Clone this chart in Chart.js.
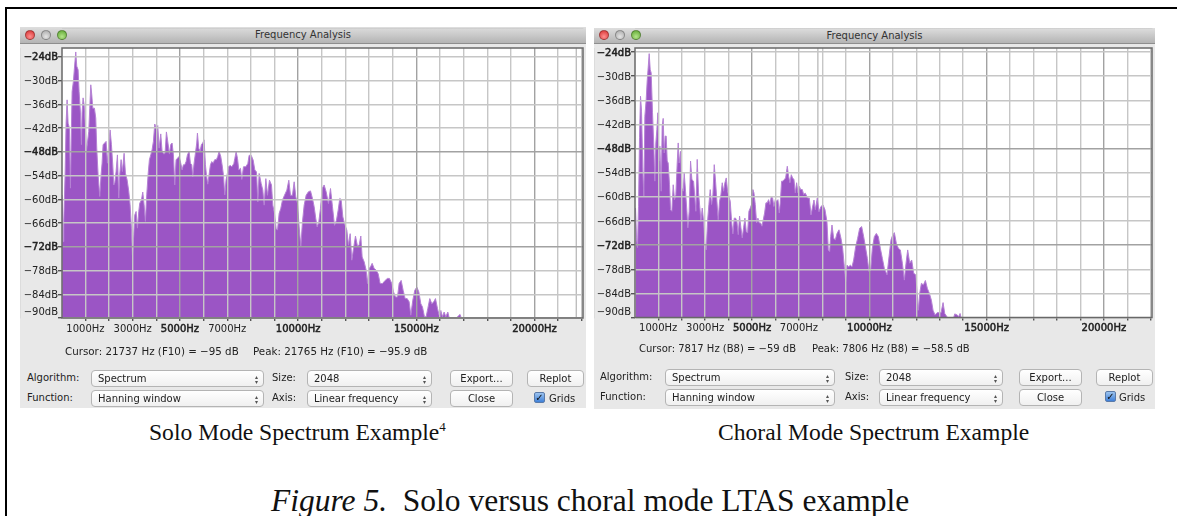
<!DOCTYPE html>
<html lang="en">
<head>
  <meta charset="UTF-8">
  <title>Solo versus choral mode LTAS example</title>
  <script src="https://cdn.jsdelivr.net/npm/chart.js"></script>
  <style>
    html, body { margin: 0; padding: 0; background: #fff; }
    body { position: relative; width: 1177px; height: 516px; overflow: hidden; font-family: "DejaVu Sans", sans-serif; color: #222; }
    .abs, .win, .bar, .light, .lbl, .sel, .btn, .chk, .cap, canvas { position: absolute; }
    .win { background: #e8e8e8; }
    .bar { background: linear-gradient(#dedede, #b4b4b4); border-bottom: 1px solid #8e8e8e; font-size: 10px; line-height: 16px; text-align: center; color: #333; box-sizing: border-box; }
    .light { width: 10px; height: 10px; border-radius: 50%; border: 1px solid rgba(0,0,0,.3); box-sizing: border-box; }
    .lbl { font-size: 10px; line-height: 14px; white-space: nowrap; }
    .sel, .btn { height: 17px; line-height: 15px; font-size: 10px; background: linear-gradient(#fff, #f0f0f0); border: 1px solid #b4b4b4; border-radius: 4px; box-sizing: border-box; white-space: nowrap; }
    .sel { padding-left: 6px; }
    .sel::after { content: "\25B4\A\25BE"; white-space: pre; position: absolute; right: 5px; top: 3px; font-size: 6px; line-height: 5px; color: #555; }
    .btn { text-align: center; }
    .chk { width: 11px; height: 11px; background: linear-gradient(#9cc4f0, #3f80d8); border: 1px solid #5a7aa8; border-radius: 2px; box-sizing: border-box; color: #111; font-size: 10px; line-height: 9px; text-align: center; font-weight: bold; }
    .cap { font-family: "Liberation Serif", serif; font-size: 23.6px; line-height: 26px; white-space: nowrap; color: #111; }
    .cap sup { font-size: 13px; line-height: 0; }
    .fig { font-size: 31.5px; line-height: 34px; }
  </style>
</head>
<body>
  <div class="abs" style="left:5px;top:7px;width:1172px;height:2px;background:#000"></div>
  <div class="abs" style="left:5px;top:7px;width:2px;height:509px;background:#000"></div>

  <!-- left window -->
  <div class="win" style="left:20px;top:27px;width:566px;height:381px"></div>
  <div class="bar" style="left:20px;top:27px;width:566px;height:17px">Frequency Analysis</div>
  <div class="light" style="left:25px;top:30px;background:radial-gradient(circle at 50% 70%,#ff8f8f,#d62f2f)"></div>
  <div class="light" style="left:41px;top:30px;background:radial-gradient(circle at 50% 70%,#e4e4e4,#a8a8a8)"></div>
  <div class="light" style="left:57px;top:30px;background:radial-gradient(circle at 50% 70%,#b4e58a,#5ba52f)"></div>
  <canvas id="soloChart" width="566" height="320" style="left:20px;top:28px"></canvas>
  <div class="lbl" style="left:65px;top:344px;font-size:10.3px">Cursor: 21737 Hz (F10) = −95 dB</div>
  <div class="lbl" style="left:253px;top:344px;font-size:10.3px">Peak: 21765 Hz (F10) = −95.9 dB</div>
  <div class="lbl" style="left:27px;top:371px">Algorithm:</div>
  <div class="sel" style="left:91px;top:370px;width:173px">Spectrum</div>
  <div class="lbl" style="left:272px;top:371px">Size:</div>
  <div class="sel" style="left:307px;top:370px;width:125px">2048</div>
  <div class="btn" style="left:450px;top:370px;width:63px">Export...</div>
  <div class="btn" style="left:527px;top:370px;width:57px">Replot</div>
  <div class="lbl" style="left:27px;top:391px">Function:</div>
  <div class="sel" style="left:91px;top:390px;width:173px">Hanning window</div>
  <div class="lbl" style="left:272px;top:391px">Axis:</div>
  <div class="sel" style="left:307px;top:390px;width:125px">Linear frequency</div>
  <div class="btn" style="left:450px;top:390px;width:63px">Close</div>
  <div class="chk" style="left:534px;top:392px">✓</div>
  <div class="lbl" style="left:549px;top:392px">Grids</div>
  <div class="cap" style="left:149px;top:419px">Solo Mode Spectrum Example<sup>4</sup></div>

  <!-- right window -->
  <div class="win" style="left:594px;top:28px;width:561px;height:381px"></div>
  <div class="bar" style="left:594px;top:28px;width:561px;height:16px">Frequency Analysis</div>
  <div class="light" style="left:599px;top:30px;background:radial-gradient(circle at 50% 70%,#ff8f8f,#d62f2f)"></div>
  <div class="light" style="left:615px;top:30px;background:radial-gradient(circle at 50% 70%,#e4e4e4,#a8a8a8)"></div>
  <div class="light" style="left:631px;top:30px;background:radial-gradient(circle at 50% 70%,#b4e58a,#5ba52f)"></div>
  <canvas id="choralChart" width="561" height="320" style="left:594px;top:28px"></canvas>
  <div class="lbl" style="left:639px;top:342px">Cursor: 7817 Hz (B8) = −59 dB</div>
  <div class="lbl" style="left:812px;top:342px">Peak: 7806 Hz (B8) = −58.5 dB</div>
  <div class="lbl" style="left:600px;top:370px">Algorithm:</div>
  <div class="sel" style="left:665px;top:369px;width:170px">Spectrum</div>
  <div class="lbl" style="left:845px;top:370px">Size:</div>
  <div class="sel" style="left:879px;top:369px;width:124px">2048</div>
  <div class="btn" style="left:1019px;top:369px;width:63px">Export...</div>
  <div class="btn" style="left:1096px;top:369px;width:57px">Replot</div>
  <div class="lbl" style="left:600px;top:390px">Function:</div>
  <div class="sel" style="left:665px;top:389px;width:170px">Hanning window</div>
  <div class="lbl" style="left:845px;top:390px">Axis:</div>
  <div class="sel" style="left:879px;top:389px;width:124px">Linear frequency</div>
  <div class="btn" style="left:1019px;top:389px;width:63px">Close</div>
  <div class="chk" style="left:1105px;top:391px">✓</div>
  <div class="lbl" style="left:1119px;top:391px">Grids</div>
  <div class="cap" style="left:718px;top:419px">Choral Mode Spectrum Example</div>

  <div class="cap fig" style="left:271px;top:484px"><i>Figure 5.</i>&nbsp; Solo versus choral mode LTAS example</div>

  <script>
    const hzTicks = [1000, 2000, 3000, 4000, 5000, 6000, 7000, 8000, 9000, 10000, 11000, 12000, 13000, 14000, 15000, 16000, 17000, 18000, 19000, 20000, 21000, 22000];
    const hzLabelled = [1000, 3000, 5000, 7000, 10000, 15000, 20000];
    const hzBold = [5000, 10000, 15000, 20000];
    const dbTicks = [-24, -30, -36, -42, -48, -54, -60, -66, -72, -78, -84, -90];
    const dbBold = [-24, -48, -72];

    const soloCursorHz = 21765;
    const choralCursorHz = 7806;

    const soloHz = [14, 56, 85, 141, 183, 226, 268, 324, 367, 409, 437, 493, 536, 592, 634, 691, 733, 790, 832, 860,
      902, 945, 1001, 1043, 1086, 1142, 1184, 1227, 1269, 1311, 1382, 1438, 1480, 1537, 1607, 1664, 1706, 1748, 1819, 1875,
      1932, 1988, 2044, 2101, 2157, 2200, 2242, 2298, 2355, 2411, 2453, 2510, 2566, 2637, 2693, 2764, 2834, 2890, 2947, 2989,
      3046, 3088, 3144, 3201, 3257, 3299, 3370, 3426, 3483, 3539, 3595, 3652, 3708, 3765, 3821, 3877, 3934, 3990, 4061, 4117,
      4188, 4244, 4315, 4371, 4427, 4484, 4554, 4611, 4667, 4723, 4780, 4836, 4907, 4963, 5034, 5090, 5146, 5203, 5259, 5316,
      5386, 5443, 5499, 5541, 5598, 5654, 5710, 5739, 5795, 5851, 5908, 5964, 6021, 6077, 6119, 6176, 6232, 6289, 6345, 6401,
      6472, 6542, 6599, 6655, 6726, 6782, 6838, 6895, 6951, 7008, 7064, 7135, 7194, 7279, 7321, 7377, 7434, 7490, 7561, 7617,
      7688, 7786, 7871, 7927, 8012, 8096, 8167, 8237, 8294, 8350, 8435, 8505, 8562, 8632, 8703, 8787, 8872, 8928, 8999, 9069,
      9126, 9196, 9267, 9337, 9422, 9521, 9605, 9676, 9760, 9831, 9901, 9972, 10042, 10113, 10183, 10254, 10338, 10437, 10522, 10606,
      10677, 10747, 10804, 10874, 10945, 11015, 11100, 11184, 11283, 11368, 11452, 11537, 11621, 11692, 11762, 11819, 11889, 11960, 12059, 12129,
      12200, 12270, 12341, 12425, 12510, 12580, 12651, 12707, 12792, 12876, 12933, 12989, 13060, 13130, 13215, 13299, 13384, 13469, 13567, 13680,
      13779, 13863, 13962, 14033, 14117, 14202, 14272, 14357, 14441, 14526, 14611, 14695, 14766, 14850, 14935, 15020, 15104, 15189, 15259, 15344,
      15414, 15485, 15569, 15654, 15739, 15809, 15894, 15964, 16035, 16105, 16176, 16246, 16331, 16387, 16700, 16790, 16850, 16900];
    const soloDb = [-58.9, -70.7, -65.6, -53.8, -40.8, -34.9, -40.8, -42.0, -57.2, -42.0, -32.8, -30.2, -26.9, -22.8, -26.4, -27.3, -32.8, -38.2, -46.2, -38.2,
      -34.4, -36.1, -42.0, -47.9, -45.8, -42.9, -37.0, -31.1, -33.6, -37.0, -37.0, -39.5, -47.1, -53.8, -59.3, -53.8, -50.9, -46.2, -45.8, -45.4,
      -50.9, -45.8, -42.5, -46.2, -51.3, -56.4, -55.9, -53.0, -48.8, -59.7, -53.8, -50.0, -53.0, -48.4, -53.4, -55.1, -58.0, -61.4, -67.3, -74.2,
      -69.0, -64.0, -63.1, -67.3, -63.1, -61.0, -60.2, -58.2, -61.4, -65.6, -58.9, -53.8, -50.0, -48.8, -47.5, -45.4, -41.0, -42.0, -41.4, -47.1,
      -43.5, -47.9, -48.6, -48.4, -43.0, -45.4, -48.6, -46.2, -45.8, -48.8, -56.4, -50.0, -49.6, -49.2, -50.9, -52.6, -51.3, -51.3, -50.5, -48.8,
      -47.9, -50.9, -51.3, -54.3, -50.9, -48.4, -45.8, -43.3, -47.1, -47.9, -46.2, -45.8, -45.0, -51.3, -53.8, -56.2, -53.8, -51.3, -50.5, -50.9,
      -50.0, -50.0, -49.2, -47.9, -49.2, -51.3, -53.8, -58.9, -55.1, -53.4, -51.7, -51.5, -51.8, -51.0, -49.7, -48.0, -49.7, -52.6, -52.2, -55.0,
      -51.8, -51.8, -51.0, -48.9, -48.9, -50.1, -52.6, -53.1, -60.7, -53.5, -56.0, -57.7, -61.5, -54.8, -59.0, -55.2, -56.4, -61.5, -63.6, -67.4,
      -67.8, -63.6, -62.3, -60.2, -59.0, -57.7, -55.2, -59.0, -59.0, -55.6, -59.4, -61.1, -67.0, -72.0, -65.7, -61.5, -59.0, -58.1, -57.9, -59.8,
      -61.9, -64.9, -67.0, -65.7, -62.3, -57.3, -56.4, -58.1, -61.1, -57.3, -61.9, -66.6, -65.3, -62.8, -59.8, -60.1, -64.4, -66.1, -67.8, -71.6,
      -68.7, -75.4, -72.5, -69.3, -71.9, -71.6, -69.3, -74.6, -75.8, -77.9, -81.3, -77.5, -77.1, -76.2, -77.5, -77.9, -78.8, -81.3, -81.3, -80.5,
      -80.0, -80.0, -81.3, -83.4, -84.7, -84.7, -81.3, -80.5, -83.0, -85.1, -85.1, -85.9, -89.3, -85.5, -83.0, -82.2, -83.4, -86.4, -87.2, -89.7,
      -89.7, -87.6, -85.1, -86.4, -85.9, -85.1, -87.6, -89.3, -88.1, -89.7, -88.5, -89.7, -88.5, -89.9, -90, -89.4, -89.1, -90];

    const choralHz = [32, 74, 117, 160, 202, 245, 288, 345, 387, 430, 487, 529, 572, 615, 657, 700, 757, 814, 856, 899,
      942, 984, 1027, 1070, 1127, 1169, 1212, 1255, 1297, 1340, 1383, 1425, 1482, 1525, 1582, 1639, 1695, 1752, 1809, 1852,
      1894, 1951, 2008, 2065, 2108, 2165, 2222, 2264, 2321, 2378, 2435, 2506, 2563, 2605, 2662, 2719, 2776, 2819, 2876, 2933,
      2989, 3046, 3103, 3160, 3217, 3274, 3331, 3388, 3444, 3501, 3558, 3615, 3672, 3729, 3786, 3843, 3900, 3956, 4013, 4070,
      4127, 4184, 4241, 4298, 4355, 4411, 4468, 4525, 4582, 4639, 4696, 4753, 4810, 4866, 4923, 4980, 5037, 5080, 5137, 5194,
      5250, 5307, 5364, 5421, 5478, 5535, 5592, 5649, 5705, 5762, 5819, 5876, 5933, 5990, 6047, 6104, 6160, 6203, 6260, 6317,
      6374, 6431, 6502, 6559, 6616, 6672, 6729, 6786, 6843, 6900, 6957, 7014, 7071, 7142, 7199, 7270, 7369, 7441, 7512, 7569,
      7640, 7697, 7782, 7853, 7938, 8024, 8109, 8194, 8251, 8308, 8351, 8408, 8479, 8550, 8621, 8706, 8791, 8863, 8934, 8991,
      9047, 9119, 9190, 9261, 9332, 9417, 9502, 9588, 9673, 9758, 9844, 9915, 9986, 10057, 10128, 10213, 10299, 10384, 10469, 10555,
      10640, 10754, 10839, 10924, 10996, 11067, 11152, 11237, 11323, 11408, 11493, 11564, 11635, 11721, 11806, 11891, 11977, 12034, 12091, 12147,
      12219, 12304, 12389, 12475, 12560, 12645, 12716, 12802, 12887, 12972, 13057, 13143, 13214, 13285, 13330, 13598, 13640, 13754, 13811, 13868, 13911];
    const choralDb = [-62.8, -70.2, -72.6, -62.4, -45.3, -35.0, -38.7, -53.6, -59.9, -40.0, -35.8, -31.2, -27.9, -24.4, -28.3, -29.2, -39.1, -47.8, -56.1, -46.6,
      -43.3, -39.1, -51.1, -47.4, -58.6, -42.4, -40.5, -49.1, -44.9, -44.9, -51.1, -51.6, -57.0, -63.2, -63.6, -57.0, -60.7, -59.5, -51.6, -46.6,
      -51.6, -48.7, -57.8, -58.6, -54.1, -58.6, -63.6, -67.7, -63.6, -51.1, -55.7, -56.1, -60.3, -63.6, -50.7, -59.0, -62.8, -66.1, -62.8, -66.1,
      -71.5, -73.2, -66.1, -61.9, -58.2, -61.9, -59.5, -52.0, -56.1, -61.1, -65.7, -61.1, -59.5, -56.5, -58.6, -56.5, -55.3, -58.6, -59.9, -61.1,
      -66.1, -69.2, -65.3, -65.3, -66.1, -69.4, -64.8, -67.7, -70.2, -67.7, -65.3, -68.6, -69.0, -63.6, -62.8, -61.9, -58.2, -59.0, -61.9, -66.5,
      -65.3, -66.5, -66.5, -67.3, -65.7, -64.0, -61.5, -61.5, -60.7, -61.9, -59.9, -60.3, -62.4, -60.7, -61.1, -60.7, -64.0, -61.5, -56.1, -56.1,
      -55.7, -55.3, -52.4, -54.9, -56.5, -54.5, -55.3, -55.7, -59.0, -56.5, -59.0, -57.4, -58.2, -58.2, -59.4, -59.1, -60.3, -60.3, -64.5, -62.8,
      -60.8, -63.2, -60.3, -63.7, -62.4, -62.0, -63.2, -66.2, -73.2, -73.6, -69.9, -67.0, -70.3, -70.7, -69.1, -68.2, -70.3, -72.8, -77.4, -81.1,
      -77.0, -77.4, -77.0, -77.4, -75.7, -72.4, -70.3, -67.8, -67.4, -69.9, -72.8, -75.3, -78.6, -78.2, -72.8, -69.9, -69.1, -69.9, -72.8, -75.3,
      -77.8, -79.4, -74.9, -70.7, -69.5, -68.9, -71.6, -72.8, -73.2, -76.5, -80.7, -76.5, -73.2, -76.5, -75.7, -79.0, -79.4, -83.6, -88.2, -84.0,
      -81.5, -81.9, -80.8, -82.8, -84.0, -85.7, -88.2, -89.4, -88.8, -88.8, -88.8, -86.3, -89.0, -89.6, -90, -90, -89.1, -89.4, -89.8, -89.0, -90];

    // white plot background and dark frame round it
    const plotFrame = {
      id: 'plotFrame',
      beforeDraw(chart) {
        const a = chart.chartArea;
        chart.ctx.fillStyle = '#fff';
        chart.ctx.fillRect(a.left, a.top, a.width, a.height);
      },
      afterDraw(chart) {
        const a = chart.chartArea;
        const ctx = chart.ctx;
        ctx.save();
        ctx.strokeStyle = '#686868';
        ctx.lineWidth = 1.5;
        ctx.strokeRect(a.left, a.top, a.width, a.height);
        // the app nudges its lowest label up off the bottom edge
        ctx.fillStyle = '#222';
        ctx.font = '10px "DejaVu Sans"';
        ctx.textAlign = 'right';
        ctx.textBaseline = 'middle';
        ctx.fillText('\u221290dB', a.left - 4, chart.scales.y.getPixelForValue(-90) - 5.5);
        ctx.restore();
      }
    };

    function makeSpectrum(id, hz, db, cursorHz, top, axisWidth, axisHeight) {
      const points = hz.map((f, i) => ({ x: f, y: db[i] }));
      return new Chart(document.getElementById(id), {
        type: 'line',
        data: {
          datasets: [{
            data: points,
            borderColor: '#b582d4',
            borderWidth: 1,
            backgroundColor: '#9b55c5',
            fill: 'start',
            pointRadius: 0
          }, {
            data: [{ x: cursorHz, y: -90 }, { x: cursorHz, y: top }],
            borderColor: '#b4b4b4',
            borderWidth: 1.2,
            pointRadius: 0
          }]
        },
        options: {
          responsive: false,
          animation: false,
          layout: { padding: { top: 20, right: 3, left: 0, bottom: 0 } },
          plugins: { legend: { display: false }, tooltip: { enabled: false } },
          scales: {
            x: {
              type: 'linear',
              min: 10,
              max: 22050,
              afterBuildTicks(scale) { scale.ticks = hzTicks.map(v => ({ value: v })); },
              afterFit(scale) { scale.height = axisHeight; },
              grid: {
                z: 1,
                lineWidth: 1.4,
                tickLength: 3,
                tickColor: '#555',
                color: ctx => hzBold.includes(ctx.tick.value) ? '#a2a2a2' : '#c6c6c6'
              },
              ticks: {
                autoSkip: false,
                maxRotation: 0,
                padding: 2,
                color: '#222',
                font: { family: '"DejaVu Sans"', size: 10 },
                textStrokeColor: '#222',
                textStrokeWidth: ctx => ctx.tick && hzBold.includes(ctx.tick.value) ? 0.5 : 0,
                callback: v => hzLabelled.includes(v) ? v + 'Hz' : ''
              }
            },
            y: {
              min: -90,
              max: top,
              afterBuildTicks(scale) { scale.ticks = dbTicks.map(v => ({ value: v })); },
              afterFit(scale) { scale.width = axisWidth; },
              grid: {
                z: 1,
                lineWidth: 1.4,
                tickLength: 4,
                tickColor: '#555',
                color: ctx => dbBold.includes(ctx.tick.value) && ctx.tick.value !== -24 ? '#a2a2a2' : '#c6c6c6'
              },
              ticks: {
                padding: 0,
                labelOffset: 1,
                color: '#222',
                font: { family: '"DejaVu Sans"', size: 10 },
                textStrokeColor: '#222',
                textStrokeWidth: ctx => ctx.tick && dbBold.includes(ctx.tick.value) ? 0.5 : 0,
                callback: v => v === -90 ? '' : '\u2212' + Math.abs(v) + 'dB'
              }
            }
          }
        },
        plugins: [plotFrame]
      });
    }

    makeSpectrum('soloChart', soloHz, soloDb, soloCursorHz, -21.8, 42, 30);
    makeSpectrum('choralChart', choralHz, choralDb, choralCursorHz, -23, 41, 30.5);
  </script>
</body>
</html>
